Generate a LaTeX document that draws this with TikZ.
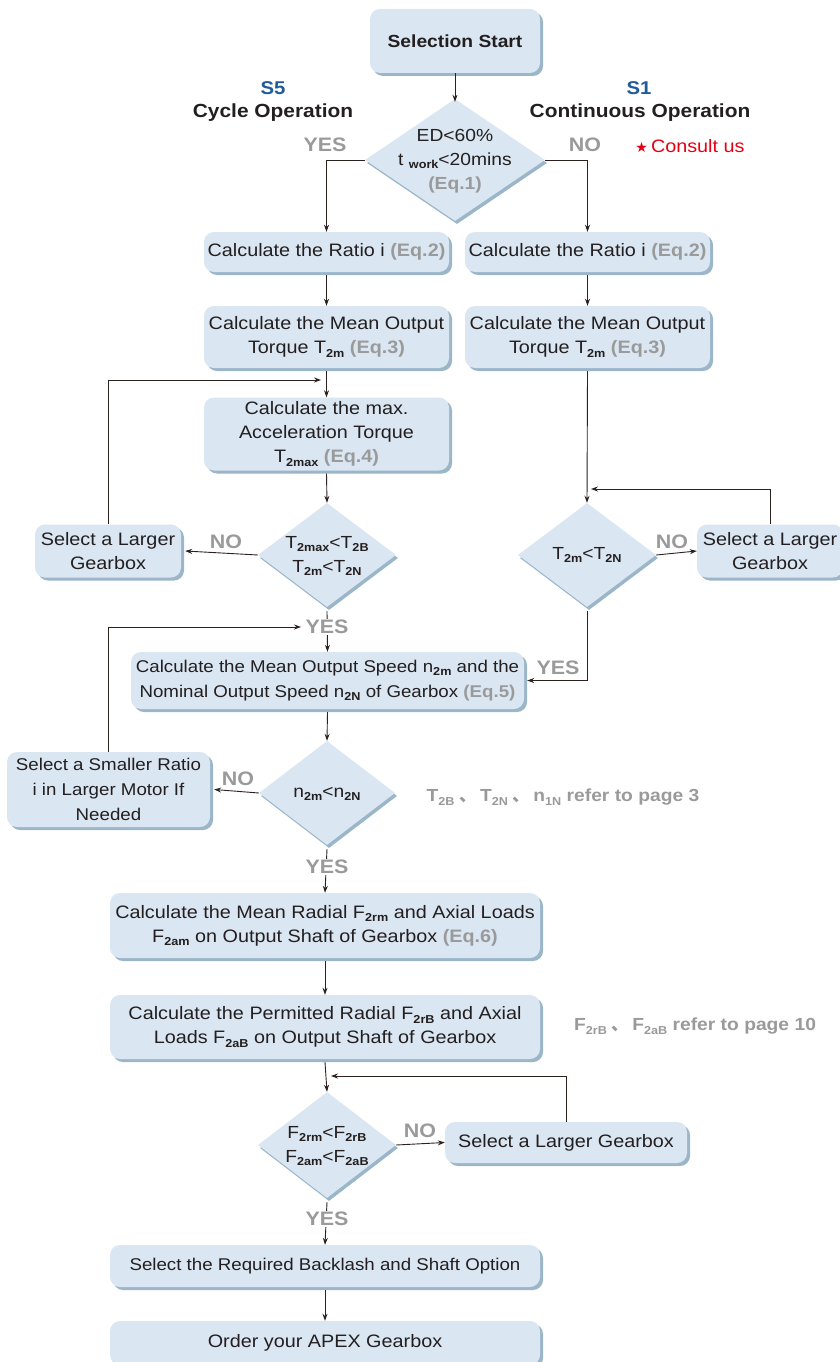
\documentclass[tikz,border=0pt]{standalone}
\usepackage{fontspec}
\setmainfont[FakeStretch=1.1]{Liberation Sans}
\newfontfamily\symfont{DejaVu Sans}
\newfontfamily\cjkfont{Noto Sans CJK SC}
\usetikzlibrary{shapes.geometric,arrows.meta,shadows}
\definecolor{boxc}{HTML}{DAE6F1}
\definecolor{shadc}{HTML}{9AB6C8}
\definecolor{txtc}{HTML}{231F20}
\definecolor{grayc}{HTML}{9A9A9A}
\definecolor{bluec}{HTML}{1F5C99}
\definecolor{redc}{HTML}{E60012}
\definecolor{linec}{HTML}{2B2220}
\newcommand\sub[1]{\raisebox{-0.4ex}{\fontsize{11.5}{11.5}\selectfont\bfseries #1}}
\newcommand\eq[1]{\textcolor{grayc}{\bfseries (Eq.#1)}}
\newcommand\dun{\hspace{5pt}{\cjkfont 、}}
\tikzset{
  box/.style={rounded corners=10pt, fill=boxc, align=center, inner sep=0pt, text=txtc,
    font=\fontsize{18}{24}\selectfont,
    general shadow={fill=shadc, shadow xshift=3pt, shadow yshift=-3pt}},
  fs17/.style={font=\fontsize{17}{25}\selectfont},
  dia/.style={diamond, fill=boxc, inner sep=0pt, text=txtc,
    general shadow={fill=shadc, shadow xshift=2pt, shadow yshift=-3pt}},
  dtext/.style={align=center, text=txtc, inner sep=0pt, font=\fontsize{17.5}{24}\selectfont},
  arr/.style={draw=linec, line width=0.9pt, -{Stealth[length=7pt,width=5pt]}},
  yn/.style={text=grayc, font=\fontsize{19.5}{19.5}\selectfont\bfseries, inner sep=1pt},
  ynw/.style={yn, fill=white},
  head/.style={text=txtc, font=\fontsize{19}{19}\selectfont\bfseries},
  shead/.style={text=bluec, font=\fontsize{18.5}{18.5}\selectfont\bfseries},
  note/.style={text=grayc, font=\fontsize{17.5}{17.5}\selectfont\bfseries, inner sep=0pt}
}
\begin{document}
\begin{tikzpicture}[x=1pt,y=-1pt]
\useasboundingbox (0,0) rectangle (840,1362);
% headers
\node[shead] (s5) at (273,88) {S5};
\node[head] (cyc) at (273,113) {Cycle Operation};
\node[shead] (s1) at (639,88) {S1};
\node[head] (cont) at (640,113) {Continuous Operation};
\node[text=redc, font=\fontsize{18}{18}\selectfont, inner sep=0pt] (consult) at (690,146) {{\symfont\fontsize{14}{14}\selectfont ★}\,Consult us};
% nodes
\node[box, minimum width=170pt, minimum height=64pt, font=\fontsize{17.5}{24}\selectfont\bfseries] (start) at (455,41) {Selection Start};
\node[dia, minimum width=180pt, minimum height=122pt] (d1) at (455,160) {};
\node[dtext] (d1t) at (455,161) {ED<60\%\\t \sub{work}<20mins\\\eq{1}};
\node[box, minimum width=245pt, minimum height=40pt] (L1) at (326.5,252) {Calculate the Ratio i \eq{2}};
\node[box, minimum width=245pt, minimum height=40pt] (R1) at (587.5,252) {Calculate the Ratio i \eq{2}};
\node[box, minimum width=245pt, minimum height=62pt] (L2) at (326.5,337) {Calculate the Mean Output\\Torque T\sub{2m} \eq{3}};
\node[box, minimum width=245pt, minimum height=62pt] (R2) at (587.5,337) {Calculate the Mean Output\\Torque T\sub{2m} \eq{3}};
\node[box, minimum width=245pt, minimum height=73pt] (L3) at (326.5,434) {Calculate the max.\\Acceleration Torque\\T\sub{2max} \eq{4}};
\node[dia, minimum width=138pt, minimum height=104pt] (dL) at (327,555) {};
\node[dtext] (dLt) at (327,556) {T\sub{2max}<T\sub{2B}\\T\sub{2m}<T\sub{2N}};
\node[box, minimum width=146pt, minimum height=53pt] (bigL) at (108,551) {Select a Larger\\Gearbox};
\node[dia, minimum width=138pt, minimum height=104pt] (dR) at (587,555) {};
\node[dtext] (dRt) at (587,555) {T\sub{2m}<T\sub{2N}};
\node[box, minimum width=146pt, minimum height=53pt] (bigR) at (770,551) {Select a Larger\\Gearbox};
\node[box, fs17, minimum width=393pt, minimum height=57pt] (speed) at (327.5,680.5) {Calculate the Mean Output Speed n\sub{2m} and the\\Nominal Output Speed n\sub{2N} of Gearbox \eq{5}};
\node[dia, minimum width=136pt, minimum height=104pt] (dn) at (327,793) {};
\node[dtext] (dnt) at (327,794) {n\sub{2m}<n\sub{2N}};
\node[box, fs17, minimum width=203pt, minimum height=75pt] (smaller) at (108.5,789.5) {Select a Smaller Ratio\\i in Larger Motor If\\Needed};
\node[box, minimum width=430pt, minimum height=65pt] (radial) at (325,925.5) {Calculate the Mean Radial F\sub{2rm} and Axial Loads\\F\sub{2am} on Output Shaft of Gearbox \eq{6}};
\node[box, minimum width=430pt, minimum height=64pt] (perm) at (325,1027) {Calculate the Permitted Radial F\sub{2rB} and Axial\\Loads F\sub{2aB} on Output Shaft of Gearbox};
\node[dia, minimum width=138pt, minimum height=106pt] (dF) at (327,1145) {};
\node[dtext] (dFt) at (327,1146) {F\sub{2rm}<F\sub{2rB}\\F\sub{2am}<F\sub{2aB}};
\node[box, minimum width=242pt, minimum height=41pt] (bigF) at (566,1142.5) {Select a Larger Gearbox};
\node[box, fs17, minimum width=430pt, minimum height=42pt] (back) at (325,1266) {Select the Required Backlash and Shaft Option};
\node[box, minimum width=430pt, minimum height=44pt] (order) at (325,1343) {Order your APEX Gearbox};
% notes
\node[note] (n1) at (563,797) {T\sub{2B}\dun\,T\sub{2N}\dun\,n\sub{1N} refer to page 3};
\node[note] (n2) at (695,1026) {F\sub{2rB}\dun\,F\sub{2aB} refer to page 10};
% loop coordinates
\coordinate (j1) at (321,380);
\coordinate (j2) at (591,489);
\coordinate (j3) at (301,627);
\coordinate (j4) at (331,1076);
% connectors
\draw[arr] (start.south) -- ([yshift=-3pt]d1.north);
\draw[arr] (d1.west) -| (L1.north);
\draw[arr] (d1.east) -| (R1.north);
\node[yn] (yes1) at (325,145) {YES};
\node[yn] (no1) at (585,145) {NO};
\draw[arr] ([yshift=-3pt]L1.south) -- (L2.north);
\draw[arr] ([yshift=-3pt]R1.south) -- (R2.north);
\draw[arr] ([yshift=-3pt]L2.south) -- (L3.north);
\draw[arr] ([yshift=-3pt]L3.south) -- (dL.north);
\draw[arr] (dL.west) -- ([xshift=4pt]bigL.east);
\node[yn] (no2) at (226,542) {NO};
\draw[arr] (bigL.north) |- (j1);
\draw[arr] ([yshift=-3pt]R2.south) -- (dR.north);
\draw[arr] (bigR.north) |- (j2);
\draw[arr] (dR.east) -- (bigR.west);
\node[yn] (no3) at (672,542) {NO};
\draw[arr] ([yshift=-4pt]dR.south) |- ([xshift=3pt]speed.east);
\node[yn] (yes3) at (558,668) {YES};
\draw[arr] ([yshift=-4pt]dL.south) -- (speed.north);
\node[ynw] (yes2) at (327,627) {YES};
\draw[arr] (smaller.north) |- (j3);
\draw[arr] ([yshift=-3pt]speed.south) -- (dn.north);
\draw[arr] (dn.west) -- ([xshift=4pt]smaller.east);
\node[yn] (no4) at (238,779) {NO};
\draw[arr] ([yshift=-4pt]dn.south) -- (radial.north);
\node[ynw] (yes4) at (327,867) {YES};
\draw[arr] ([yshift=-3pt]radial.south) -- (perm.north);
\draw[arr] ([yshift=-3pt]perm.south) -- (dF.north);
\draw[arr] (bigF.north) |- (j4);
\draw[arr] (dF.east) -- (bigF.west);
\node[yn] (no5) at (420,1131) {NO};
\draw[arr] ([yshift=-4pt]dF.south) -- (back.north);
\node[ynw] (yes5) at (327,1219) {YES};
\draw[arr] ([yshift=-3pt]back.south) -- (order.north);
\end{tikzpicture}
\end{document}
